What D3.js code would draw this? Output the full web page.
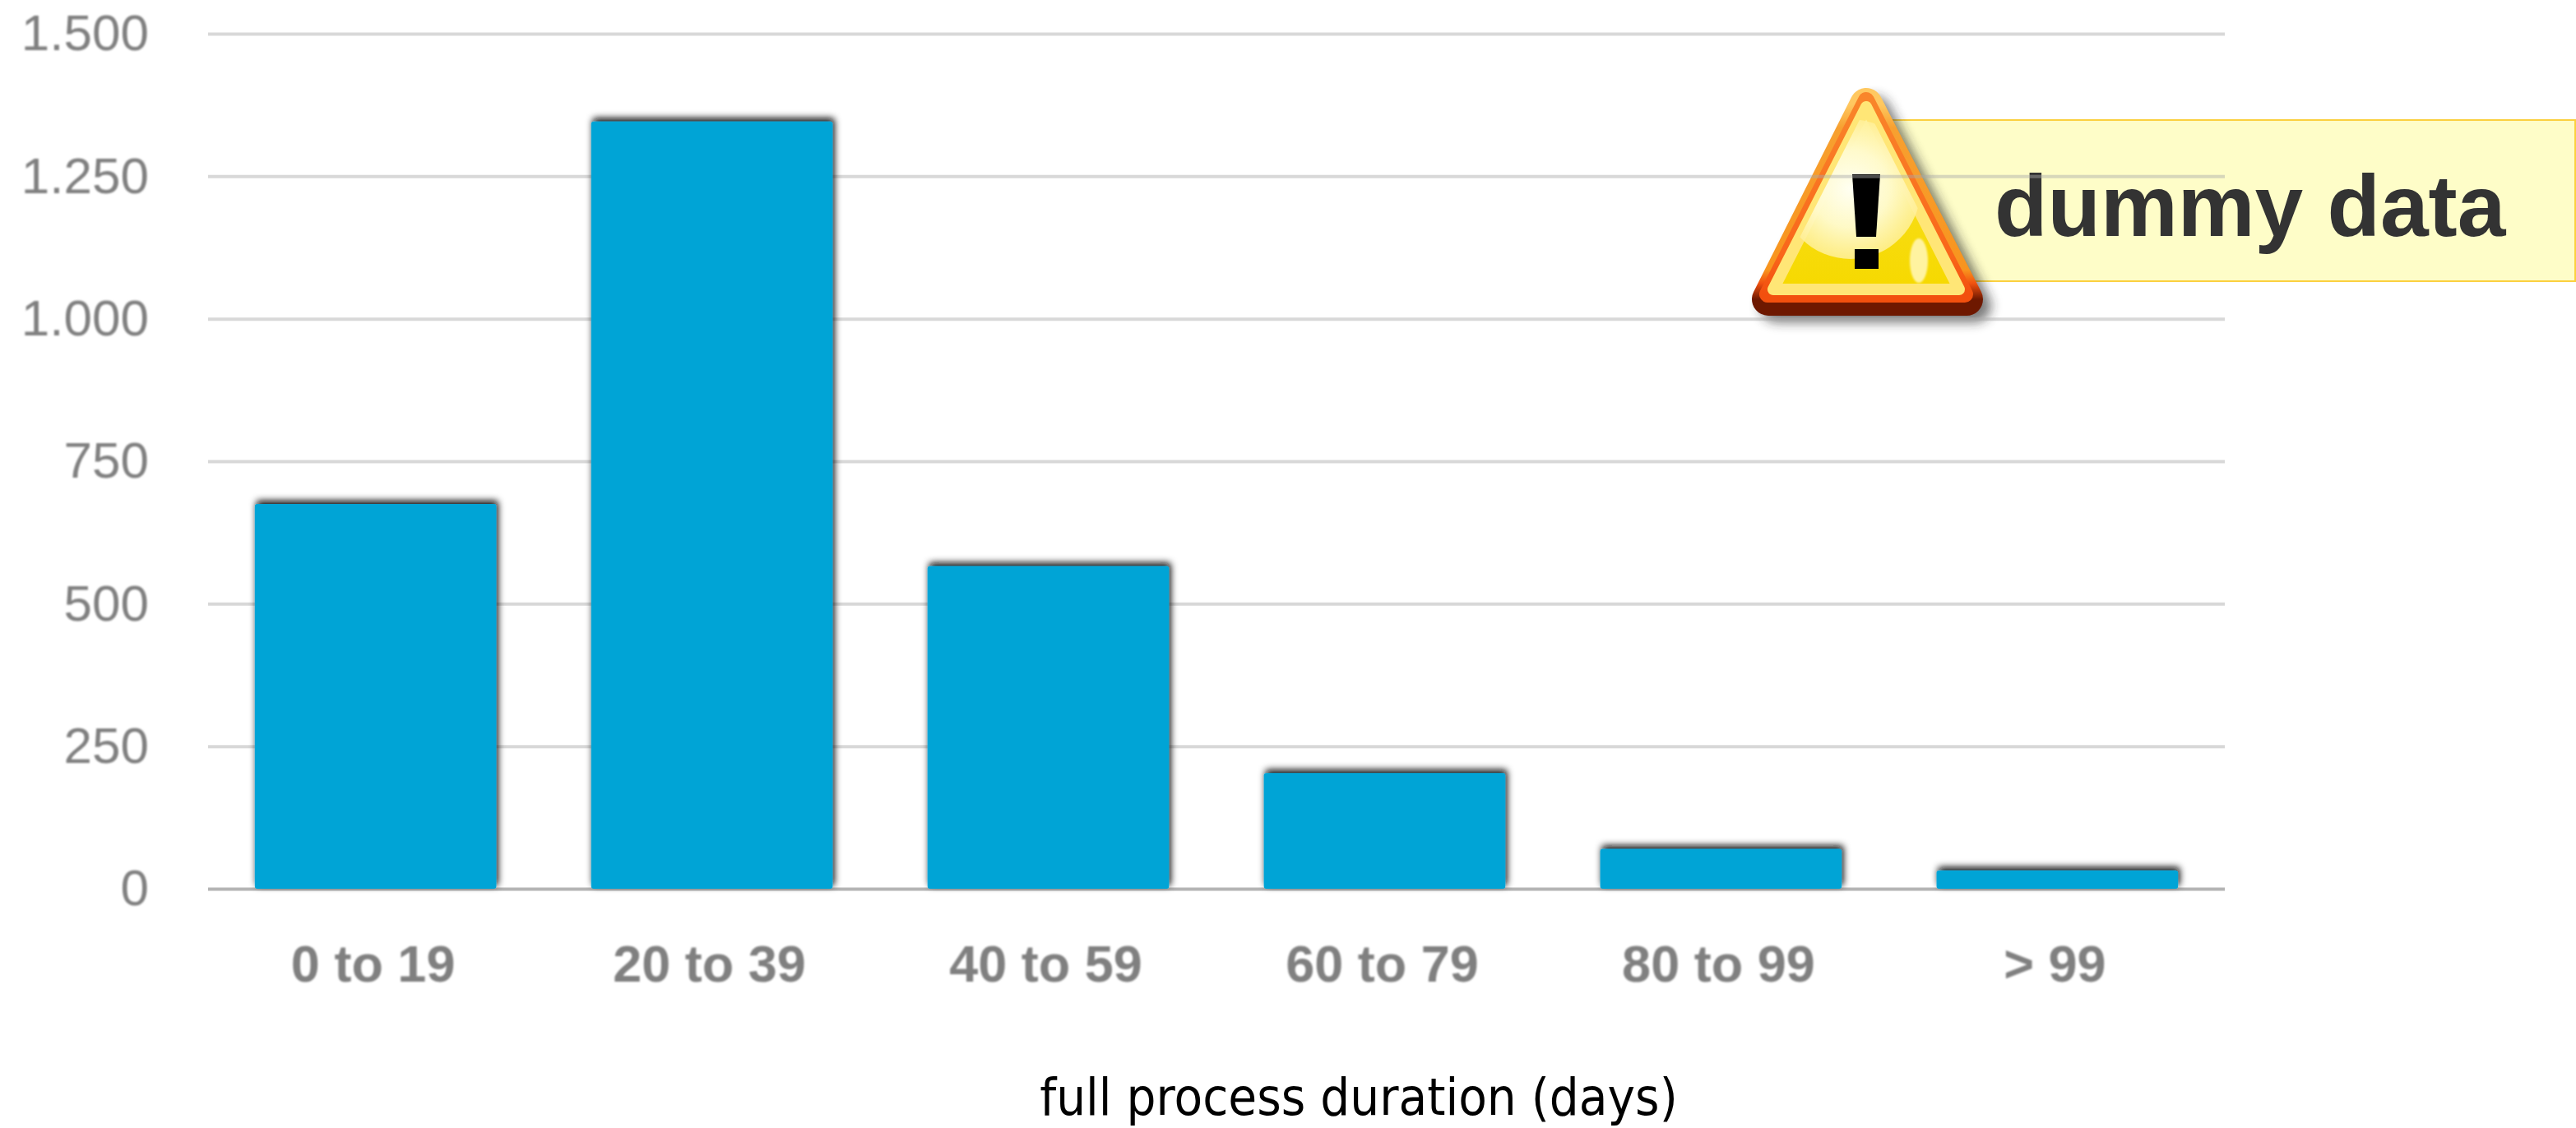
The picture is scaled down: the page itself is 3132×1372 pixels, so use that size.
<!DOCTYPE html>
<html>
<head>
<meta charset="utf-8">
<script src="https://cdn.jsdelivr.net/npm/d3@7"></script>
<style>
  html, body { margin: 0; background: #fff; }
  svg { display: block; }
</style>
</head>
<body>
<svg id="chart"></svg>
<script>
const categories = ["0 to 19", "20 to 39", "40 to 59", "60 to 79", "80 to 99", "> 99"];
const counts = [675, 1346, 566, 203, 70, 32];
const yTicks = [0, 250, 500, 750, 1000, 1250, 1500];
const xTitle = "full process duration (days)";
const badgeText = "dummy data";

const width = 3132, height = 1372;
const margin = { top: 41, right: 427, bottom: 291, left: 253 };
const innerW = width - margin.left - margin.right;
const innerH = height - margin.top - margin.bottom;

const svg = d3.select("#chart").attr("width", width).attr("height", height);
const defs = svg.append("defs");

// soft look of the upscaled screenshot
const soft = defs.append("filter").attr("id", "soft");
soft.append("feGaussianBlur").attr("stdDeviation", 1.1);

const barShadow = defs.append("filter").attr("id", "barShadow")
    .attr("filterUnits", "userSpaceOnUse")
    .attr("x", -20).attr("y", -20).attr("width", innerW + 40).attr("height", innerH + 60);
barShadow.append("feDropShadow")
    .attr("dx", 2).attr("dy", -4).attr("stdDeviation", 4.5)
    .attr("flood-color", "#111").attr("flood-opacity", 1);

const iconShadow = defs.append("filter").attr("id", "iconShadow")
    .attr("x", "-20%").attr("y", "-20%").attr("width", "140%").attr("height", "140%");
iconShadow.append("feGaussianBlur").attr("stdDeviation", 7);

function vgrad(id, stops) {
    const g = defs.append("linearGradient").attr("id", id)
        .attr("x1", 0).attr("y1", 0).attr("x2", 0).attr("y2", 1);
    stops.forEach(s => g.append("stop").attr("offset", s[0]).attr("stop-color", s[1]));
}
vgrad("rim", [[0, "#ffc860"], [0.12, "#f7a030"], [0.85, "#f8941e"], [0.92, "#f0500f"], [1, "#6e1800"]]);
vgrad("ring", [[0, "#f9852a"], [0.8, "#f9661a"], [1, "#f2500e"]]);
vgrad("lemon", [[0, "#fff9b0"], [0.45, "#fbea60"], [0.62, "#f7dc10"], [1, "#f6d900"]]);

const glossGrad = defs.append("radialGradient").attr("id", "gloss");
[[0, "#fffff2", 1], [0.55, "#fffbd0", 0.95], [1, "#fff09a", 0.85]].forEach(s => {
    glossGrad.append("stop").attr("offset", s[0]).attr("stop-color", s[1]).attr("stop-opacity", s[2]);
});

const triPath = (ax, ay, bx, by, cx, cy) => `M${ax},${ay}L${bx},${by}L${cx},${cy}Z`;
const lemonPath = triPath(2269, 130, 2156, 352, 2382, 352);

defs.append("clipPath").attr("id", "lemonClip").append("path").attr("d", lemonPath);

const badge = svg.append("g");
const chart = svg.append("g").attr("transform", `translate(${margin.left},${margin.top})`);

const x = d3.scaleBand().domain(categories).range([0, innerW]).paddingInner(0.282).paddingOuter(0.139);
const y = d3.scaleLinear().domain([0, 1500]).range([innerH, 0]);

// warning badge, sits behind the gridlines
badge.append("rect")
    .attr("x", 2250).attr("y", 146).attr("width", 881).attr("height", 196)
    .attr("fill", "#fefdc8").attr("stroke", "#fbd040").attr("stroke-width", 2);
badge.append("text")
    .attr("x", 2425).attr("y", 287)
    .attr("font-family", "'Liberation Sans', Arial, sans-serif")
    .attr("font-weight", "bold").attr("font-size", 105.5)
    .attr("fill", "#333").text(badgeText);

const tri = badge.append("g");
tri.append("path")
    .attr("d", triPath(2279, 137, 2160, 372, 2401, 372))
    .attr("fill", "#222").attr("stroke", "#222").attr("stroke-width", 40)
    .attr("stroke-linejoin", "round").attr("opacity", 0.6).attr("filter", "url(#iconShadow)");
tri.append("path")
    .attr("d", triPath(2269, 127, 2150, 364, 2391, 364))
    .attr("fill", "url(#rim)").attr("stroke", "url(#rim)").attr("stroke-width", 40)
    .attr("stroke-linejoin", "round");
tri.append("path")
    .attr("d", triPath(2269, 122, 2149, 358, 2389, 358))
    .attr("fill", "url(#ring)").attr("stroke", "url(#ring)").attr("stroke-width", 20)
    .attr("stroke-linejoin", "round");
tri.append("path")
    .attr("d", lemonPath)
    .attr("fill", "url(#lemon)").attr("stroke", "#ffe676").attr("stroke-width", 14)
    .attr("stroke-linejoin", "round");
tri.append("circle")
    .attr("cx", 2250).attr("cy", 230).attr("r", 85)
    .attr("fill", "url(#gloss)").attr("clip-path", "url(#lemonClip)");
tri.append("ellipse")
    .attr("cx", 2333).attr("cy", 317).attr("rx", 11).attr("ry", 27)
    .attr("fill", "#fff3a0").attr("filter", "url(#soft)");
tri.append("path")
    .attr("d", "M2252,212L2286,212L2281,288L2257,288Z")
    .attr("fill", "#000");
tri.append("rect")
    .attr("x", 2255).attr("y", 303).attr("width", 29).attr("height", 24)
    .attr("fill", "#000");

// y axis, its ticks double as the gridlines
const yAxis = d3.axisLeft(y)
    .tickValues(yTicks)
    .tickSize(-innerW)
    .tickPadding(72)
    .tickFormat(d => d3.format(",")(d).replace(",", "."));

const yG = chart.append("g").call(yAxis);
yG.select(".domain").remove();
yG.selectAll(".tick line")
    .attr("stroke", d => d === 0 ? "#b4b4b4" : "#a8a8a8")
    .attr("stroke-opacity", d => d === 0 ? 1 : 0.45)
    .attr("stroke-width", 4);
yG.selectAll(".tick text")
    .attr("font-family", "'Liberation Sans', Arial, sans-serif")
    .attr("font-size", 62)
    .attr("fill", "#808080")
    .attr("filter", "url(#soft)");

// bars
chart.append("g").selectAll("rect")
    .data(counts)
    .join("rect")
    .attr("x", (d, i) => x(categories[i]))
    .attr("y", d => y(d))
    .attr("width", x.bandwidth())
    .attr("height", d => y(0) - y(d))
    .attr("rx", 3)
    .attr("fill", "#02a4d6")
    .attr("filter", "url(#barShadow)");

// x axis
const xAxis = d3.axisBottom(x).tickSize(0).tickPadding(68);
const xG = chart.append("g").attr("transform", `translate(0,${innerH})`).call(xAxis);
xG.select(".domain").remove();
xG.selectAll(".tick text")
    .attr("dx", -3)
    .attr("font-family", "'Liberation Sans', Arial, sans-serif")
    .attr("font-weight", "bold")
    .attr("font-size", 63)
    .attr("fill", "#808080")
    .attr("filter", "url(#soft)");

svg.append("text")
    .attr("x", 1652).attr("y", 1356)
    .attr("text-anchor", "middle")
    .attr("font-family", "'DejaVu Sans', Verdana, sans-serif")
    .attr("font-stretch", "condensed")
    .attr("font-size", 63)
    .attr("fill", "#000")
    .text(xTitle);
</script>
</body>
</html>
